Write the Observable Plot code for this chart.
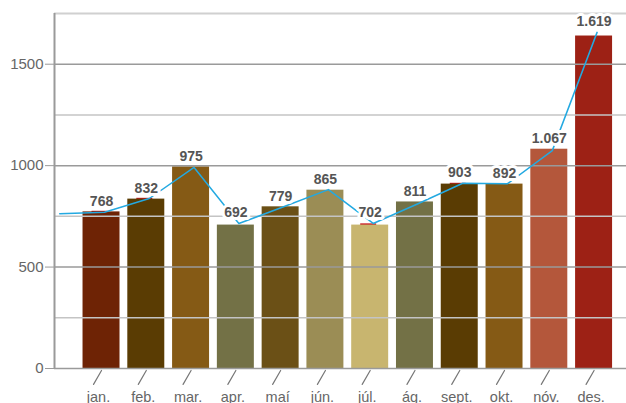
<!DOCTYPE html>
<html>
<head>
<meta charset="utf-8">
<script src="https://cdn.jsdelivr.net/npm/d3@7"></script>
<script src="https://cdn.jsdelivr.net/npm/@observablehq/plot@0.6"></script>
<style>
  html, body { margin: 0; padding: 0; background: #fff; }
</style>
</head>
<body>
<div id="chart"></div>
<script>
// ---- data ----
const months = ["jan.", "feb.", "mar.", "apr.", "maí", "jún.", "júl.", "ág.", "sept.", "okt.", "nóv.", "des."];
const labelValues = [768, 832, 975, 692, 779, 865, 702, 811, 903, 892, 1067, 1619];
const barValues = [772, 835, 994, 707, 797, 879, 707, 821, 909, 909, 1081, 1639];
const lineValues = [770, 838, 991, 715, 797, 882, 715, 812, 913, 911, 1074, 1657];
const priorLineValue = 763; // previous month, off the left edge
const redValues = [775, 839, null, null, null, null, 713, null, 913, null, null, null];
const barColors = ["#6e2305", "#5a3c03", "#855a15", "#737146", "#6b5016", "#9b8d55",
                   "#c8b56f", "#737146", "#5a3c03", "#855a15", "#b4573b", "#9d2115"];
const yTicks = [0, 500, 1000, 1500];
const minorGrid = [250, 750, 1250];
const yMax = 1750;
const xDomain = [-1.05, 11.724];

const fmt = d3.formatLocale({decimal: ",", thousands: ".", grouping: [3], currency: ["", ""]}).format(",d");

const data = months.map((m, i) => ({
  i, month: m, label: labelValues[i], bar: barValues[i], line: lineValues[i],
  red: redValues[i], color: barColors[i]
}));
const lineData = [{i: -1, line: priorLineValue}, ...data];
const redData = data.filter(d => d.red != null);

const gap = 3.9;

const chart = Plot.plot({
  width: 626,
  height: 403,
  marginLeft: 54,
  marginRight: 0,
  marginTop: 13,
  marginBottom: 35,
  x: {type: "linear", domain: xDomain, axis: null},
  y: {domain: [0, yMax], axis: null},
  color: {type: "identity"},
  style: {fontFamily: "'Liberation Sans', Arial, Helvetica, sans-serif", background: "#fff", overflow: "visible"},
  marks: [
    Plot.rectY(redData, {x1: d => d.i - 0.5, x2: d => d.i + 0.5, y1: 0, y2: "red",
      fill: "#c8141e", insetLeft: gap + 9, insetRight: gap + 12}),
    Plot.rectY(data, {x1: d => d.i - 0.5, x2: d => d.i + 0.5, y1: 0, y2: "bar",
      fill: "color", insetLeft: gap, insetRight: gap}),
    Plot.ruleY(minorGrid, {stroke: "#c4c4c4", strokeWidth: 1.5}),
    Plot.ruleY(yTicks, {stroke: "#9a9a9a", strokeWidth: 1.5}),
    Plot.ruleY([yMax], {stroke: "#d0d0d0", strokeWidth: 2}),
    Plot.ruleX([xDomain[0]], {stroke: "#9a9a9a", strokeWidth: 2}),
    Plot.axisY(yTicks, {tickSize: 9, tickPadding: 2, fontSize: 15, stroke: "#9a9a9a", fill: "#666", tickFormat: d => String(d), label: null}),
    Plot.line(lineData, {x: "i", y: "line", stroke: "#23a9e1", strokeWidth: 1.5, dx: 3, clip: true}),
    Plot.vector(data, {x: "i", y: 0, length: 16, rotate: 210, anchor: "start", r: 0.01, dy: 2,
      stroke: "#777", strokeWidth: 1.2}),
    Plot.text(data, {x: "i", y: 0, text: "month", dy: 33, dx: -3, lineAnchor: "bottom",
      fontSize: 14.5, fill: "#666"}),
    Plot.text(data, {x: "i", y: d => Math.max(d.bar, d.line), text: d => fmt(d.label), dy: -6,
      lineAnchor: "bottom", fontSize: 14, fontWeight: "bold", fill: "#555",
      stroke: "white", strokeWidth: 6, strokeLinejoin: "round"})
  ]
});
document.getElementById("chart").appendChild(chart);
</script>
</body>
</html>
